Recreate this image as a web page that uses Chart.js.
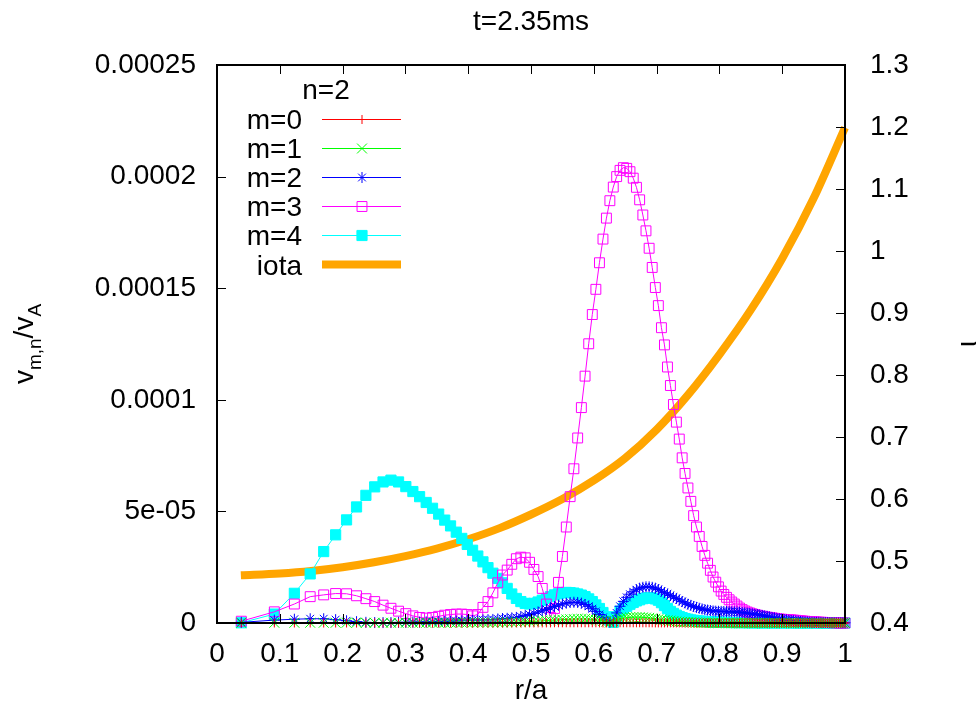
<!DOCTYPE html>
<html>
<head>
<meta charset="utf-8">
<script src="https://cdn.jsdelivr.net/npm/chart.js@4.4.1/dist/chart.umd.min.js"></script>
<style>
  html, body { margin: 0; padding: 0; background: #ffffff; }
  #wrap { width: 978px; height: 713px; }
</style>
</head>
<body>
<div id="wrap"><canvas id="c" width="978" height="713"></canvas></div>
<script>
// ---------------- data (v values in units of 1e-6) ----------------
const titleText = 't=2.35ms';
const legendTitle = 'n=2';
const seriesNames = ['m=0', 'm=1', 'm=2', 'm=3', 'm=4', 'iota'];

const r = [0.0387,0.0913,0.1232,0.1484,0.1699,0.1889,0.2063,0.2222,0.2371,0.2511,
  0.2644,0.2770,0.2891,0.3007,0.3119,0.3226,0.3331,0.3432,0.3530,0.3626,
  0.3719,0.3810,0.3898,0.3985,0.4070,0.4153,0.4235,0.4315,0.4393,0.4471,
  0.4546,0.4621,0.4694,0.4767,0.4838,0.4908,0.4977,0.5046,0.5113,0.5179,
  0.5245,
  0.5310,0.5374,0.5437,0.5500,0.5562,0.5623,0.5683,0.5743,0.5802,0.5861,
  0.5919,0.5976,0.6033,0.6090,0.6146,0.6201,0.6256,0.6310,0.6364,0.6418,
  0.6471,0.6524,0.6576,0.6628,0.6679,0.6730,0.6781,0.6831,0.6881,0.6930,
  0.6980,0.7028,0.7077,0.7125,0.7173,0.7220,0.7268,0.7315,0.7361,0.7407,
  0.7453,0.7499,0.7545,0.7590,0.7635,0.7679,0.7724,0.7768,0.7812,0.7856,
  0.7899,0.7942,0.7985,0.8028,0.8070,0.8113,0.8155,0.8196,0.8238,0.8280,
  0.8321,0.8362,0.8403,0.8443,0.8484,0.8524,0.8564,0.8604,0.8643,0.8683,
  0.8722,0.8761,0.8800,0.8839,0.8877,0.8916,0.8954,0.8992,0.9030,0.9068,
  0.9106,0.9143,0.9181,0.9218,0.9255,0.9292,0.9328,0.9365,0.9401,0.9438,
  0.9474,0.9510,0.9546,0.9582,0.9617,0.9653,0.9688,0.9723,0.9758,0.9793,
  0.9828,0.9863,0.9897,0.9932,0.9966,1.0];

const m0 = [0,0,0,0,0,0,0,0,0,0,
  0,0,0,0,0,0,0,0,0,0,
  0,0,0,0,0,0,0,0,0,0.05,
  0.05,0.05,0.05,0.05,0.05,0.05,0.05,0.05,0.05,0.05,
  0.05,
  0.05,0.1,0.1,0.1,0.1,0.1,0.1,0.1,0.1,0.1,
  0.1,0.1,0.1,0.05,0.05,0.05,0.05,0.05,0.05,0.1,
  0.1,0.1,0.1,0.1,0.1,0.1,0.1,0.1,0.1,0.1,
  0.05,0.05,0.05,0.05,0.05,0.05,0.05,0.05,0.05,0.05,
  0,0,0,0,0,0,0,0,0,0,
  0,0,0,0,0,0,0,0,0,0,
  0,0,0,0,0,0,0,0,0,0,
  0,0,0,0,0,0,0,0,0,0,
  0,0,0,0,0,0,0,0,0,0,
  0,0,0,0,0,0,0,0,0,0,
  0,0,0,0,0,0];

const m1 = [0.05,0.1,0.1,0.1,0.1,0.1,0.1,0.1,0.1,0.1,
  0.1,0.1,0.1,0.1,0.1,0.1,0.1,0.1,0.1,0.1,
  0.1,0.1,0.15,0.15,0.15,0.2,0.2,0.2,0.2,0.25,
  0.3,0.3,0.3,0.4,0.4,0.5,0.6,0.7,0.8,1.0,
  1.1,
  1.2,1.3,1.4,1.5,1.6,1.7,1.75,1.8,1.8,1.8,
  1.7,1.6,1.4,1.2,0.9,0.6,0.2,0.8,1.5,2.0,
  2.2,2.4,2.5,2.6,2.6,2.6,2.5,2.4,2.3,2.1,
  1.9,1.7,1.5,1.3,1.15,1.0,0.85,0.7,0.6,0.5,
  0.4,0.35,0.3,0.25,0.2,0.15,0.1,0.1,0.1,0.05,
  0.05,0.05,0.05,0.05,0.05,0,0,0,0,0,
  0,0,0,0,0,0,0,0,0,0,
  0,0,0,0,0,0,0,0,0,0,
  0,0,0,0,0,0,0,0,0,0,
  0,0,0,0,0,0,0,0,0,0,
  0,0,0,0,0,0];

const m2 = [0.3,1.3,1.7,1.9,1.9,1.5,1.0,0.6,0.3,0.2,
  0.2,0.2,0.3,0.3,0.4,0.4,0.5,0.5,0.6,0.7,
  0.8,0.9,1.0,1.1,1.2,1.3,1.4,1.5,1.6,1.8,
  2.0,2.1,2.3,2.5,2.9,3.3,3.8,4.3,4.9,5.5,
  6.1,
  6.8,7.4,8.0,8.5,8.9,9.2,9.3,9.2,8.9,8.3,
  7.5,6.4,5.2,3.8,2.5,1.2,0.4,0.8,4.5,7.5,
  9.7,11.5,12.9,14,14.9,15.6,16.0,16.2,16.2,16,
  15.6,15,14.3,13.6,13,12.3,11.6,11,10.3,9.6,
  9,8.4,7.9,7.4,7.0,6.6,6.3,6.0,5.8,5.6,
  5.4,5.3,5.25,5.2,5.15,5.1,5.05,5.0,4.95,4.9,
  4.8,4.7,4.55,4.4,4.25,4.1,3.95,3.8,3.6,3.4,
  3.2,3.0,2.75,2.5,2.3,2.1,1.9,1.7,1.55,1.4,
  1.25,1.1,1.0,0.9,0.8,0.7,0.6,0.5,0.45,0.4,
  0.35,0.3,0.3,0.3,0.25,0.2,0.2,0.2,0.2,0.2,
  0.15,0.1,0.1,0.1,0.1,0.1];

const m3 = [0.8,5.0,8.5,11.8,12.6,13.2,13.1,12.2,10.9,9.6,
  8.0,6.6,5.3,4.2,3.2,2.5,2.2,2.5,3.0,3.5,
  3.8,4.0,4.0,3.8,3.2,3.8,7.0,9.6,13.5,18.0,
  21.5,23.7,26.3,28.8,29.5,29.2,27.2,24.0,20.8,15.5,
  8.5,
  2.5,6.5,18.2,29.8,43,56.6,69.1,82.9,96.5,110.6,
  125.1,138.2,149.5,161.4,172,181.4,189.2,195.3,200,202.8,
  204,203.7,202.2,199.3,195.2,189.6,182.8,175.7,167.9,159.3,
  150.3,142.2,132.3,124.6,114.7,106.4,97.9,90,82.4,74,
  67,60.5,54.5,48.1,43,38.8,34.3,30.3,26.8,23.6,
  20.6,18.3,16.2,14.3,12.8,11.5,10.4,9.4,8.5,7.6,
  6.7,6.0,5.4,4.9,4.5,4.1,3.8,3.5,3.2,3.0,
  2.8,2.6,2.5,2.3,2.1,1.9,1.8,1.7,1.6,1.5,
  1.5,1.4,1.3,1.2,1.1,1.0,0.9,0.8,0.7,0.6,
  0.55,0.5,0.45,0.4,0.35,0.3,0.25,0.2,0.2,0.15,
  0.1,0.1,0.05,0.05,0,0];

const m4 = [0.1,4,13.3,22,32,39.5,46.2,52,57.2,61,
  63.2,64,63.2,61.1,58.9,56.6,54,51.4,48.8,46.1,
  43.5,40.7,37.9,35.2,32.6,30,27.4,24.8,22.3,20,
  18,15.5,13,11,9.6,8.8,8.5,8.8,9.4,10.2,
  11,
  11.8,12.6,13.1,13.5,13.7,13.6,13.4,13,12.5,11.8,
  10.8,9.6,8.1,6.5,4.7,2.8,1.3,0.3,2.8,5.3,
  6.5,7.5,8.4,9.2,9.9,10.4,10.9,11.2,11.3,11.2,
  10.8,10.2,9.1,7.8,6.5,5.2,4.3,3.5,2.9,2.4,
  2.0,1.7,1.4,1.2,1.0,0.9,0.8,0.7,0.6,0.5,
  0.45,0.4,0.35,0.3,0.3,0.25,0.25,0.2,0.2,0.2,
  0.2,0.2,0.15,0.15,0.15,0.15,0.1,0.1,0.1,0.1,
  0.1,0.1,0.1,0.1,0.1,0.1,0.1,0.1,0.1,0.1,
  0.1,0.1,0.05,0.05,0.05,0.05,0.05,0.05,0.05,0.05,
  0.05,0.05,0.05,0,0,0,0,0,0,0,
  0,0,0,0,0,0];

const iotaR = [0.038,0.1,0.15,0.2,0.25,0.3,0.35,0.4,0.45,0.5,0.55,0.6,0.65,0.7,0.75,0.8,0.85,0.9,0.95,1.0];
const iota  = [0.477,0.480,0.484,0.490,0.498,0.508,0.520,0.535,0.553,0.575,0.600,0.630,0.666,0.712,0.768,0.833,0.905,0.988,1.085,1.199];

const xTicks = [0,0.1,0.2,0.3,0.4,0.5,0.6,0.7,0.8,0.9,1];
const xTickLabels = ['0','0.1','0.2','0.3','0.4','0.5','0.6','0.7','0.8','0.9','1'];
const yTicks = [0,50,100,150,200,250];
const yTickLabels = ['0','5e-05','0.0001','0.00015','0.0002','0.00025'];
const y2Ticks = [0.4,0.5,0.6,0.7,0.8,0.9,1.0,1.1,1.2,1.3];
const y2TickLabels = ['0.4','0.5','0.6','0.7','0.8','0.9','1','1.1','1.2','1.3'];

// ---------------- styling ----------------
const FONT = 'Liberation Sans, Arial, Helvetica, sans-serif';
const FS = 28;
const styles = [
  { color: '#ff0000', style: 'cross',    radius: 4.5, fill: 'rgba(0,0,0,0)' },
  { color: '#00ff00', style: 'crossRot', radius: 7,   fill: 'rgba(0,0,0,0)' },
  { color: '#0000ff', style: 'star',     radius: 5.5, fill: 'rgba(0,0,0,0)' },
  { color: '#ff00ff', style: 'rect',     radius: 7,   fill: 'rgba(0,0,0,0)' },
  { color: '#00ffff', style: 'rect',     radius: 7.2, fill: '#00ffff' }
];
const iotaColor = '#ffa500';
const series = [m0, m1, m2, m3, m4];

const datasets = series.map((vals, k) => ({
  label: seriesNames[k],
  data: r.map((x, i) => ({ x: x, y: vals[i] })),
  yAxisID: 'y',
  showLine: true,
  borderColor: styles[k].color,
  borderWidth: 1,
  backgroundColor: styles[k].fill,
  pointStyle: styles[k].style,
  pointRadius: styles[k].radius,
  pointHoverRadius: styles[k].radius,
  pointBorderWidth: 1,
  pointBorderColor: styles[k].color,
  pointBackgroundColor: styles[k].fill,
  tension: 0,
  clip: false,
  order: k + 1
}));
datasets.push({
  label: seriesNames[5],
  data: iotaR.map((x, i) => ({ x: x, y: iota[i] })),
  yAxisID: 'y2',
  showLine: true,
  borderColor: iotaColor,
  borderWidth: 8,
  borderCapStyle: 'butt',
  pointRadius: 0,
  cubicInterpolationMode: 'monotone',
  clip: false,
  order: 10
});

function drawMarker(ctx, style, x, y, rad, color, fill) {
  ctx.save();
  ctx.strokeStyle = color; ctx.lineWidth = 1; ctx.fillStyle = fill;
  ctx.beginPath();
  const d = rad * Math.SQRT1_2;
  if (style === 'cross' || style === 'star') {
    ctx.moveTo(x - rad, y); ctx.lineTo(x + rad, y);
    ctx.moveTo(x, y - rad); ctx.lineTo(x, y + rad);
  }
  if (style === 'crossRot' || style === 'star') {
    ctx.moveTo(x - d, y - d); ctx.lineTo(x + d, y + d);
    ctx.moveTo(x - d, y + d); ctx.lineTo(x + d, y - d);
  }
  if (style === 'rect') {
    ctx.rect(x - d, y - d, 2 * d, 2 * d);
    ctx.fill();
  }
  ctx.stroke();
  ctx.restore();
}

const framePlugin = {
  id: 'frame',
  afterDatasetsDraw(chart) {
    const ctx = chart.ctx, a = chart.chartArea;
    const sx = chart.scales.x, sy = chart.scales.y, sy2 = chart.scales.y2;
    ctx.save();
    ctx.strokeStyle = '#000'; ctx.lineWidth = 1;
    const TL = 9;
    ctx.beginPath();
    xTicks.forEach(v => {
      const px = Math.round(sx.getPixelForValue(v)) + 0.5;
      ctx.moveTo(px, a.bottom); ctx.lineTo(px, a.bottom - TL);
      ctx.moveTo(px, a.top); ctx.lineTo(px, a.top + TL);
    });
    yTicks.forEach(v => {
      const py = Math.round(sy.getPixelForValue(v)) + 0.5;
      ctx.moveTo(a.left, py); ctx.lineTo(a.left + TL, py);
    });
    y2Ticks.forEach(v => {
      const py = Math.round(sy2.getPixelForValue(v)) + 0.5;
      ctx.moveTo(a.right, py); ctx.lineTo(a.right - TL, py);
    });
    ctx.stroke();
    ctx.lineWidth = 2;
    ctx.strokeRect(a.left, a.top, a.right - a.left, a.bottom - a.top);
    ctx.restore();
  },
  afterDraw(chart) {
    const ctx = chart.ctx, a = chart.chartArea;
    ctx.save();
    ctx.fillStyle = '#000';
    ctx.font = FS + 'px ' + FONT;
    // title
    ctx.textAlign = 'center'; ctx.textBaseline = 'alphabetic';
    ctx.fillText(titleText, (a.left + a.right) / 2, 30);
    // x axis title
    ctx.fillText('r/a', (a.left + a.right) / 2, 699);
    // legend
    ctx.fillText(legendTitle, 326, 99);
    const rowY0 = 118.5, rowDY = 29.2;
    for (let k = 0; k < 6; k++) {
      const yy = rowY0 + k * rowDY;
      ctx.textAlign = 'right';
      ctx.fillStyle = '#000';
      ctx.fillText(seriesNames[k], 302, yy + 10);
      if (k < 5) {
        ctx.strokeStyle = styles[k].color; ctx.lineWidth = 1;
        ctx.beginPath(); ctx.moveTo(322, Math.round(yy) + 0.5); ctx.lineTo(401, Math.round(yy) + 0.5); ctx.stroke();
        drawMarker(ctx, styles[k].style, 362, Math.round(yy) + 0.5, styles[k].radius, styles[k].color, styles[k].fill);
      } else {
        ctx.strokeStyle = iotaColor; ctx.lineWidth = 8; ctx.lineCap = 'butt';
        ctx.beginPath(); ctx.moveTo(322, yy); ctx.lineTo(401, yy); ctx.stroke();
      }
    }
    // left y title: v_{m,n}/v_A rotated
    const cy = (a.top + a.bottom) / 2;
    ctx.save();
    ctx.translate(33, cy);
    ctx.rotate(-Math.PI / 2);
    ctx.textAlign = 'left'; ctx.textBaseline = 'alphabetic';
    const big = FS + 'px ' + FONT, small = '19px ' + FONT;
    const parts = [['v', big, 0], ['m,n', small, 8], ['/v', big, 0], ['A', small, 8]];
    let W = 0;
    parts.forEach(p => { ctx.font = p[1]; W += ctx.measureText(p[0]).width; });
    let u = -W / 2;
    parts.forEach(p => { ctx.font = p[1]; ctx.fillText(p[0], u, p[2]); u += ctx.measureText(p[0]).width; });
    ctx.restore();
    // right y2 title: iota (rotated)
    ctx.save();
    ctx.translate(976, cy);
    ctx.rotate(-Math.PI / 2);
    ctx.font = FS + 'px ' + FONT;
    ctx.textAlign = 'center'; ctx.textBaseline = 'alphabetic';
    ctx.fillText('\u03B9', 0, 0);
    ctx.restore();
    ctx.restore();
  }
};

const tickFont = { family: FONT, size: FS };

new Chart(document.getElementById('c'), {
  type: 'scatter',
  data: { datasets: datasets },
  options: {
    responsive: false,
    animation: false,
    devicePixelRatio: 1,
    layout: { padding: { top: 65, left: 0, right: 0, bottom: 0 } },
    plugins: { legend: { display: false }, tooltip: { enabled: false }, title: { display: false } },
    events: [],
    scales: {
      x: {
        type: 'linear', position: 'bottom', min: 0, max: 1,
        afterBuildTicks: s => { s.ticks = xTicks.map(v => ({ value: v })); },
        afterFit: s => { s.height = 90; },
        ticks: { callback: (v, i) => xTickLabels[i], font: tickFont, color: '#000', padding: 14, maxRotation: 0, autoSkip: false },
        grid: { display: false, drawTicks: false },
        border: { display: false }
      },
      y: {
        type: 'linear', position: 'left', min: 0, max: 250,
        afterBuildTicks: s => { s.ticks = yTicks.map(v => ({ value: v })); },
        afterFit: s => { s.width = 217; },
        ticks: { callback: (v, i) => yTickLabels[i], font: tickFont, color: '#000', padding: 21, autoSkip: false },
        grid: { display: false, drawTicks: false },
        border: { display: false }
      },
      y2: {
        type: 'linear', position: 'right', min: 0.4, max: 1.3,
        afterBuildTicks: s => { s.ticks = y2Ticks.map(v => ({ value: v })); },
        afterFit: s => { s.width = 133; },
        ticks: { callback: (v, i) => y2TickLabels[i], font: tickFont, color: '#000', padding: 25, autoSkip: false },
        grid: { display: false, drawTicks: false },
        border: { display: false }
      }
    }
  },
  plugins: [framePlugin]
});
</script>
</body>
</html>
